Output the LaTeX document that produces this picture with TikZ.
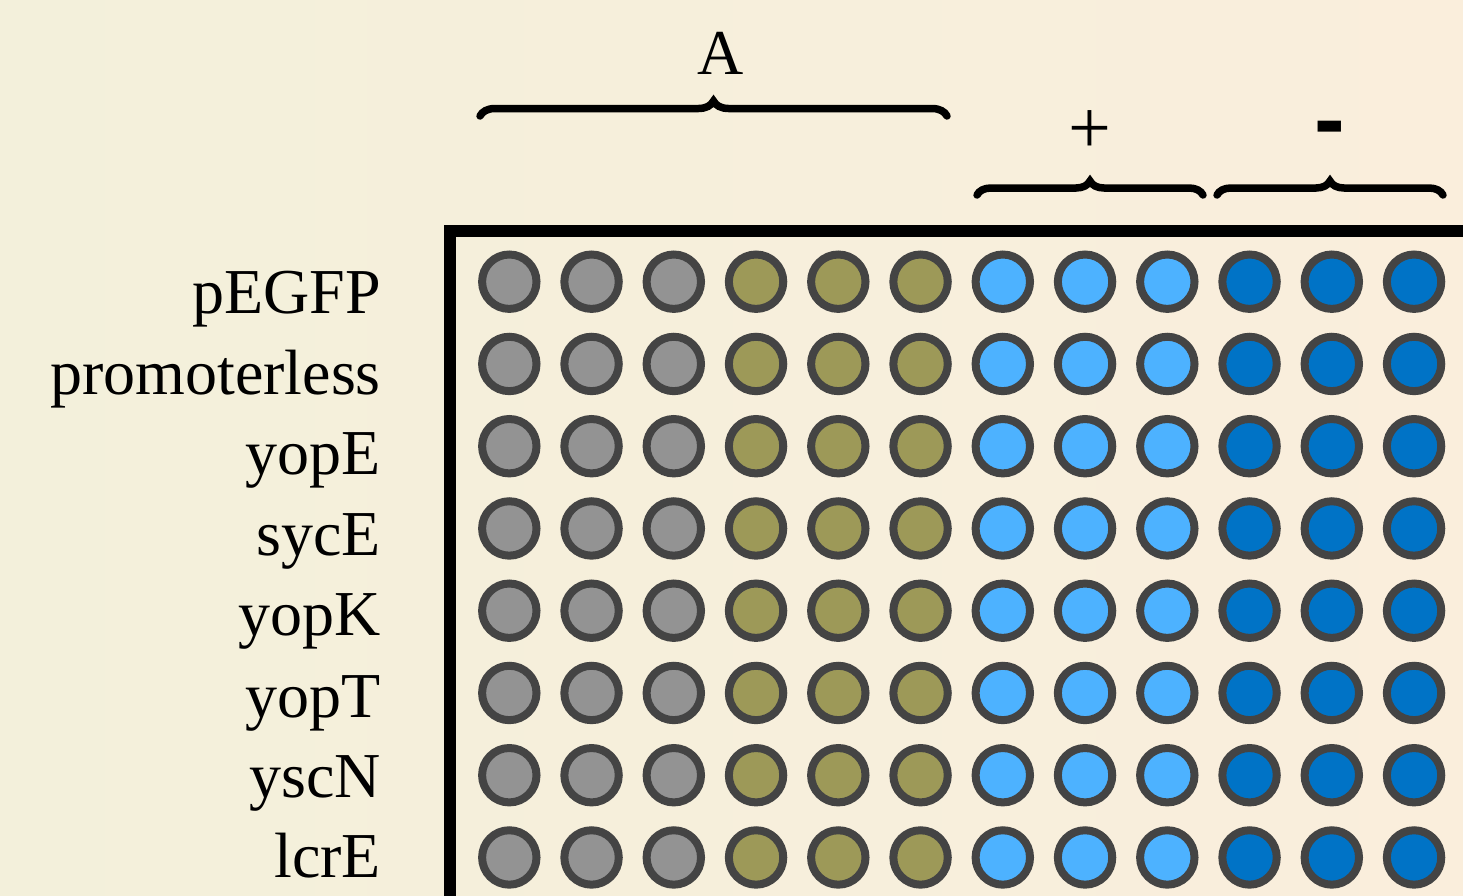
\documentclass[tikz,border=0pt]{standalone}
\usepackage{fontspec}
\setmainfont{Liberation Serif}
\newfontfamily\barfont{Liberation Sans}
\usetikzlibrary{decorations.pathreplacing}
\definecolor{bgleft}{RGB}{243,240,219}
\definecolor{bgright}{RGB}{250,238,220}
\definecolor{wellrim}{RGB}{68,68,68}
\definecolor{wgray}{RGB}{147,147,147}
\definecolor{wolive}{RGB}{157,153,88}
\definecolor{wlight}{RGB}{77,178,255}
\definecolor{wdark}{RGB}{0,115,198}
\tikzset{
  well/.style={circle, draw=wellrim, line width=8pt, minimum size=54.4pt, inner sep=0pt},
  rowlabel/.style={anchor=base east, font=\fontsize{64}{64}\selectfont, inner sep=0pt},
  grouplabel/.style={anchor=base, font=\fontsize{64}{64}\selectfont, inner sep=0pt},
  groupbrace/.style={line width=7.5pt, line cap=round, decorate, decoration={brace, amplitude=15pt}},
}
\begin{document}
\begin{tikzpicture}[x=1pt,y=-1pt]
  % page and background
  \useasboundingbox (0,0) rectangle (1463,895);
  \shade[left color=bgleft, right color=bgright] (0,0) rectangle (1463,895);

  % plate frame (open to the right and bottom)
  \draw[line width=12pt, line join=miter] (450,905) -- (450,231) -- (1475,231);

  % wells: 8 rows x 12 columns
  \foreach \r in {1,...,8} {
    \foreach \c in {1,...,12} {
      \ifnum\c<4 \def\wc{wgray}\else
      \ifnum\c<7 \def\wc{wolive}\else
      \ifnum\c<10 \def\wc{wlight}\else \def\wc{wdark}\fi\fi\fi
      \node[well, fill=\wc] (w-\r-\c) at ({509.3+(\c-1)*82.25},{281.7+(\r-1)*82.25}) {};
    }
  }

  % row labels
  \node[rowlabel] (l1) at (381,313) {pEGFP};
  \node[rowlabel] (l2) at (381,394) {promoterless};
  \node[rowlabel] (l3) at (381,474) {yopE};
  \node[rowlabel] (l4) at (381,555) {sycE};
  \node[rowlabel] (l5) at (381,635) {yopK};
  \node[rowlabel] (l6) at (381,717) {yopT};
  \node[rowlabel] (l7) at (381,797) {yscN};
  \node[rowlabel] (l8) at (381,877) {lcrE};

  % group braces and their labels
  \coordinate (ba1) at (480,116);
  \coordinate (ba2) at (947,116);
  \coordinate (bp1) at (977,195);
  \coordinate (bp2) at (1203,195);
  \coordinate (bm1) at (1217,195);
  \coordinate (bm2) at (1443,195);
  \draw[groupbrace] (ba1) -- (ba2);
  \draw[groupbrace, decoration={amplitude=14pt}] (bp1) -- (bp2);
  \draw[groupbrace, decoration={amplitude=14pt}] (bm1) -- (bm2);

  \node[grouplabel] (gA) at (721,74) {A};
  \node[grouplabel, font=\fontsize{76}{76}\selectfont] (gP) at (1090,153) {+};
  \node[anchor=base, inner sep=0pt, font=\barfont\bfseries\fontsize{92}{92}\selectfont] (gM) at (1330,150) {-};
\end{tikzpicture}
\end{document}
